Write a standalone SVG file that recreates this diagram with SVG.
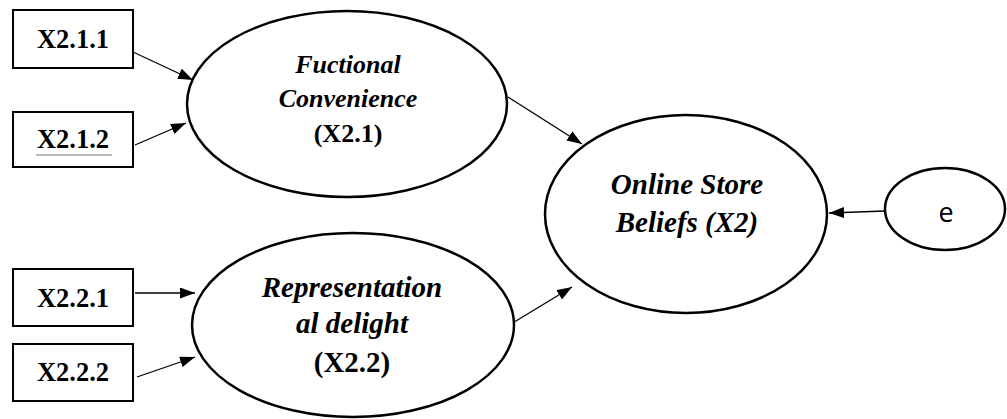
<svg xmlns="http://www.w3.org/2000/svg" width="1007" height="419" viewBox="0 0 1007 419">
<style>
.box{fill:#fff;stroke:#000;stroke-width:2}
.ell{fill:#fff;stroke:#000;stroke-width:2.5}
.lbl{font-family:"Liberation Serif",serif;font-weight:bold;fill:#000;text-anchor:middle}
.it{font-style:italic}
.edge{stroke:#000;stroke-width:1.3;fill:none;marker-end:url(#ah)}
.e{font-family:"Open Sans","Liberation Sans",sans-serif;fill:#000;text-anchor:middle;font-size:27px}
</style>
<defs>
<marker id="ah" markerUnits="userSpaceOnUse" markerWidth="16" markerHeight="12" refX="15" refY="5.5" orient="auto">
<path d="M0,0 L15,5.5 L0,11 z" fill="#000"/>
</marker>
</defs>
<rect width="1007" height="419" fill="#fff"/>
<g id="connectors">
<line class="edge" x1="133" y1="52" x2="193" y2="80"/>
<line class="edge" x1="135" y1="145" x2="186" y2="123"/>
<line class="edge" x1="135" y1="293" x2="195" y2="293"/>
<line class="edge" x1="137" y1="377" x2="195" y2="357"/>
<line class="edge" x1="508" y1="97" x2="582" y2="144"/>
<line class="edge" x1="511" y1="324" x2="572" y2="287"/>
<line class="edge" x1="885" y1="211" x2="829" y2="213"/>
</g>
<g id="n-x211">
<rect class="box" x="13" y="10" width="120" height="58"/>
<text class="lbl" x="73" y="48" font-size="26.5">X2.1.1</text>
</g>
<g id="n-x212">
<rect class="box" x="13" y="112" width="120" height="55"/>
<text class="lbl" x="73" y="148" font-size="26.5">X2.1.2</text>
<line x1="36" y1="155" x2="112" y2="155" stroke="#777" stroke-width="1"/>
</g>
<g id="n-x221">
<rect class="box" x="13" y="269" width="120" height="57"/>
<text class="lbl" x="73" y="307" font-size="26.5">X2.2.1</text>
</g>
<g id="n-x222">
<rect class="box" x="13" y="344" width="120" height="57"/>
<text class="lbl" x="73" y="381" font-size="26.5">X2.2.2</text>
</g>
<g id="n-fc">
<ellipse class="ell" cx="347" cy="104" rx="160" ry="93"/>
<text class="lbl it" x="348" y="73" font-size="26">Fuctional</text>
<text class="lbl it" x="348" y="107" font-size="26">Convenience</text>
<text class="lbl" x="348" y="142" font-size="26">(X2.1)</text>
</g>
<g id="n-rd">
<ellipse class="ell" cx="353" cy="325" rx="161" ry="92"/>
<text class="lbl it" x="352" y="297" font-size="29">Representation</text>
<text class="lbl it" x="352" y="333" font-size="29">al delight</text>
<text class="lbl" x="352" y="372" font-size="29">(X2.2)</text>
</g>
<g id="n-osb">
<ellipse class="ell" cx="686" cy="214" rx="141" ry="99"/>
<text class="lbl it" x="687" y="194" font-size="29">Online Store</text>
<text class="lbl it" x="687" y="232" font-size="29">Beliefs (X2)</text>
</g>
<g id="n-e">
<ellipse class="ell" cx="945" cy="209" rx="60" ry="41"/>
<text class="e" x="946" y="222">e</text>
</g>
</svg>
